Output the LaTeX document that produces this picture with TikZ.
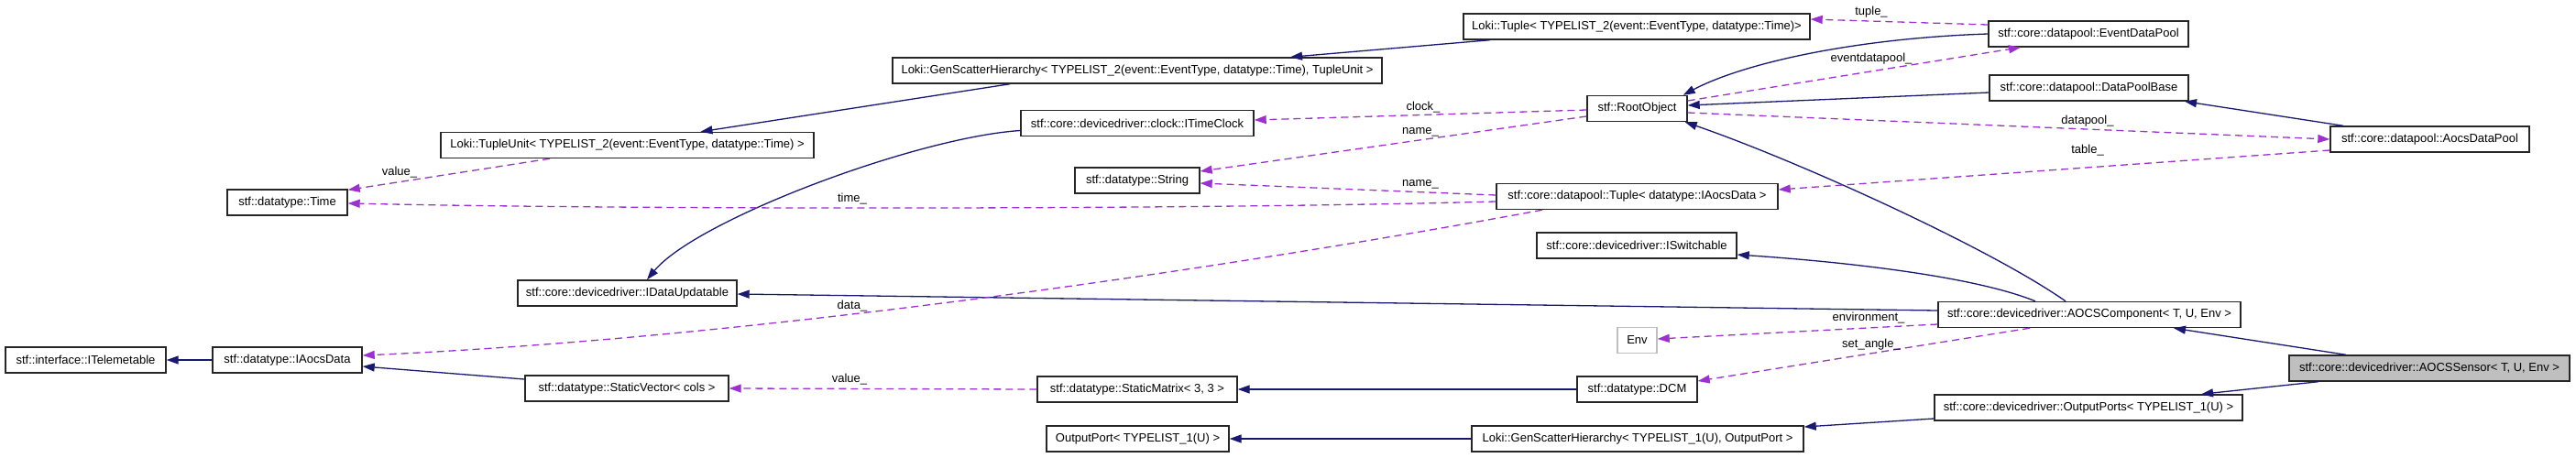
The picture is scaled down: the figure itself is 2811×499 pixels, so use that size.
\documentclass[tikz,border=0pt]{standalone}
\usepackage{fontspec}
\setmainfont{Liberation Sans}
\usetikzlibrary{arrows.meta, positioning}
\definecolor{navy}{HTML}{191970}
\definecolor{orchid}{HTML}{9A32CD}
\definecolor{shade}{HTML}{BFBFBF}

\begin{document}
\begin{tikzpicture}[
      x=1pt, y=-1pt,
      cls/.style={rectangle, draw=black!85, fill=white, line width=1.4pt,
                  minimum height=28pt, inner sep=0pt, font=\fontsize{13pt}{15pt}\selectfont},
      lbl/.style={inner sep=0pt, font=\fontsize{13pt}{15pt}\selectfont},
      inh/.style={-{Triangle[length=13pt, width=9pt]}, line width=1.3pt, navy},
      use/.style={-{Triangle[length=13pt, width=9pt]}, line width=1.3pt, orchid,
                  dash pattern=on 8pt off 5pt}
    ]
      \path[use as bounding box, fill=white] (0,0) rectangle (2811,499);

      % classes
      \node[cls, minimum width=378pt] (lokituple) at (1786,29) {Loki::Tuple< TYPELIST\_2(event::EventType, datatype::Time)>};
      \node[cls, minimum width=218pt] (eventdp) at (2279,37) {stf::core::datapool::EventDataPool};
      \node[cls, minimum width=534pt] (scatter2) at (1241,77) {Loki::GenScatterHierarchy< TYPELIST\_2(event::EventType, datatype::Time), TupleUnit >};
      \node[cls, minimum width=217pt] (dpbase) at (2279.5,96) {stf::core::datapool::DataPoolBase};
      \node[cls, minimum width=109pt] (rootobj) at (1786.5,118.5) {stf::RootObject};
      \node[cls, minimum width=254pt] (timeclock) at (1241,134.5) {stf::core::devicedriver::clock::ITimeClock};
      \node[cls, minimum width=217pt] (aocsdp) at (2651.5,152) {stf::core::datapool::AocsDataPool};
      \node[cls, minimum width=407pt] (tupleunit) at (684.5,158.5) {Loki::TupleUnit< TYPELIST\_2(event::EventType, datatype::Time) >};
      \node[cls, minimum width=136pt] (string) at (1241,197) {stf::datatype::String};
      \node[cls, minimum width=307pt] (tupleaocs) at (1786.5,214.5) {stf::core::datapool::Tuple< datatype::IAocsData >};
      \node[cls, minimum width=131pt] (time) at (313.5,221) {stf::datatype::Time};
      \node[cls, minimum width=218pt] (switch) at (1786,268) {stf::core::devicedriver::ISwitchable};
      \node[cls, minimum width=239pt] (updatable) at (684.5,320) {stf::core::devicedriver::IDataUpdatable};
      \node[cls, minimum width=330pt] (component) at (2280,343.5) {stf::core::devicedriver::AOCSComponent< T, U, Env >};
      \node[cls, draw=shade, minimum width=43pt] (env) at (1786.5,371.5) {Env};
      \node[cls, minimum width=175pt] (telemetable) at (93.5,393) {stf::interface::ITelemetable};
      \node[cls, minimum width=163pt] (aocsdata) at (313.5,393) {stf::datatype::IAocsData};
      \node[cls, fill=shade, minimum width=306pt] (sensor) at (2651,402) {stf::core::devicedriver::AOCSSensor< T, U, Env >};
      \node[cls, minimum width=222pt] (vector) at (684,424) {stf::datatype::StaticVector< cols >};
      \node[cls, minimum width=218pt] (matrix) at (1241,425) {stf::datatype::StaticMatrix< 3, 3 >};
      \node[cls, minimum width=131pt] (dcm) at (1786.5,425) {stf::datatype::DCM};
      \node[cls, minimum width=336pt] (outports) at (2279,445) {stf::core::devicedriver::OutputPorts< TYPELIST\_1(U) >};
      \node[cls, minimum width=199pt] (outport) at (1241.5,479) {OutputPort< TYPELIST\_1(U) >};
      \node[cls, minimum width=362pt] (scatter1) at (1787,479) {Loki::GenScatterHierarchy< TYPELIST\_1(U), OutputPort >};

      % inheritance
      \draw[inh] ([xshift=-139pt]scatter2.south) -- ([xshift=80pt]tupleunit.north);
      \draw[inh] ([xshift=-160pt]lokituple.south) -- ([xshift=167pt]scatter2.north);
      \draw[inh] ([yshift=-8pt]timeclock.west) .. controls (1000,150) and (760,240) .. ([xshift=21.5pt]updatable.north);
      \draw[inh] (eventdp.west) .. controls (2020,42) and (1900,70) .. ([xshift=-5pt]rootobj.north east);
      \draw[inh] ([yshift=-5pt]dpbase.west) -- ([yshift=3.5pt]rootobj.east);
      \draw[inh] ([xshift=-94.5pt]aocsdp.north) -- ([xshift=104.5pt]dpbase.south);
      \draw[inh] ([xshift=-26pt]component.north) .. controls (2170,270) and (1960,175) .. ([xshift=-3pt]rootobj.south east);
      \draw[inh] ([xshift=-59pt]component.north) .. controls (2150,300) and (2000,285) .. ([yshift=-10pt]switch.east);
      \draw[inh] ([yshift=4.5pt]component.west) -- ([yshift=-1pt]updatable.east);
      \draw[inh] ([xshift=-91pt]sensor.north) -- ([xshift=92pt]component.south);
      \draw[inh] ([xshift=-121pt]sensor.south) -- ([xshift=123pt]outports.north);
      \draw[inh] ([yshift=-12pt]outports.west) -- ([yshift=13pt]scatter1.east);
      \draw[inh] (scatter1.west) -- (outport.east);
      \draw[inh] (dcm.west) -- (matrix.east);
      \draw[inh] ([yshift=10pt]vector.west) -- ([yshift=-7pt]aocsdata.east);
      \draw[inh] (aocsdata.west) -- (telemetable.east);

      % members
      \draw[use] ([xshift=-84.5pt]tupleunit.south) -- ([yshift=-1pt]time.north east);
      \draw[use] ([yshift=-5.5pt]tupleaocs.west) .. controls (1300,229) and (700,229) .. ([yshift=-1pt]time.east);
      \draw[use] ([yshift=-1.5pt]rootobj.west) -- ([yshift=3.5pt]timeclock.east);
      \draw[use] ([yshift=-8.5pt]rootobj.west) -- ([yshift=10pt]string.east);
      \draw[use] ([yshift=1.5pt]tupleaocs.west) -- ([yshift=-3pt]string.east);
      \draw[use] ([yshift=10pt]eventdp.west) -- ([yshift=8pt]lokituple.east);
      \draw[use] ([yshift=8.5pt]rootobj.east) -- ([xshift=-74pt]eventdp.south);
      \draw[use] ([yshift=-4.5pt]rootobj.east) -- (aocsdp.west);
      \draw[use] ([yshift=-12pt]aocsdp.west) -- ([yshift=7.5pt]tupleaocs.east);
      \draw[use] ([xshift=-103.5pt]tupleaocs.south) .. controls (1300,300) and (800,370) .. ([yshift=5pt]aocsdata.east);
      \draw[use] (matrix.west) -- (vector.east);
      \draw[use] ([yshift=-10.5pt]component.west) -- ([yshift=1.5pt]env.east);
      \draw[use] ([xshift=-65pt]component.south) -- ([yshift=9pt]dcm.east);

      % member names
      \node[lbl] (lvalue) at (436,188) {value\_};
      \node[lbl] (ltime) at (930,217) {time\_};
      \node[lbl] (lclock) at (1553,117) {clock\_};
      \node[lbl] (lname) at (1550,144) {name\_};
      \node[lbl] (lname2) at (1550,201) {name\_};
      \node[lbl] (ltuple) at (2042,13) {tuple\_};
      \node[lbl] (levent) at (2042,64) {eventdatapool\_};
      \node[lbl] (lpool) at (2278,132) {datapool\_};
      \node[lbl] (ltable) at (2278,164) {table\_};
      \node[lbl] (ldata) at (930,334) {data\_};
      \node[lbl] (lvector) at (927,414) {value\_};
      \node[lbl] (lenv) at (2039,347) {environment\_};
      \node[lbl] (langle) at (2042,376) {set\_angle\_};
    \end{tikzpicture}
\end{document}
